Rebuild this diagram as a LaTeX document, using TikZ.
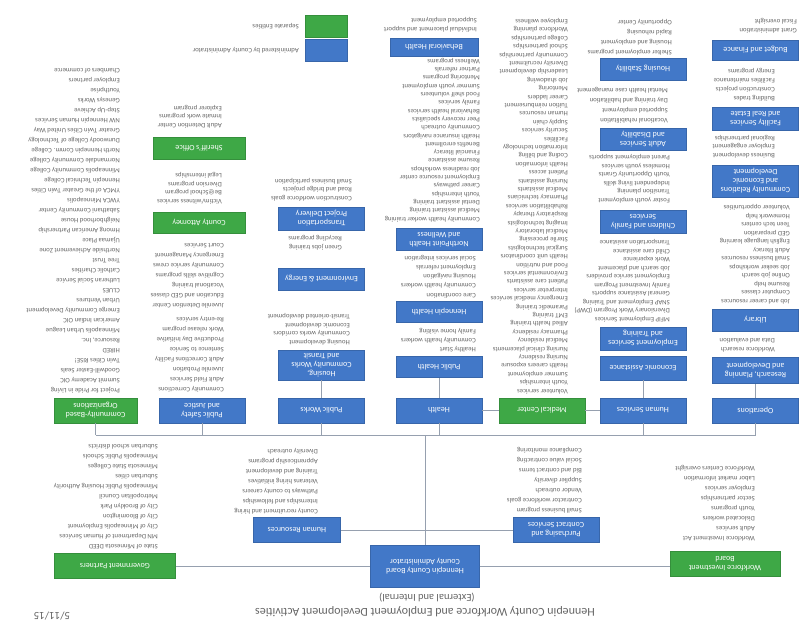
\documentclass[tikz,border=0pt]{standalone}
\usepackage{fontspec}
\setmainfont{Carlito}
\definecolor{hcblue}{RGB}{66,120,200}
\definecolor{hcgreen}{RGB}{62,168,70}
\definecolor{ink}{RGB}{100,100,100}
\definecolor{wire}{RGB}{150,160,175}
\begin{document}
\begin{tikzpicture}[x=1pt, y=-1pt,
  every node/.style={rotate=180},
  unit/.style={fill=hcblue, draw=hcblue!85!black, line width=0.4pt, text=white,
    font=\fontsize{8}{9}\selectfont, align=center, inner sep=1pt,
    minimum width=86, minimum height=25},
  partner/.style={unit, fill=hcgreen, draw=hcgreen!85!black},
  items/.style={text=ink, font=\fontsize{6.8}{10}\selectfont, align=left, inner sep=0pt, anchor=north west},
  dense/.style={items, font=\fontsize{6.8}{8.5}\selectfont},
  conn/.style={draw=wire, line width=0.6pt},
]
\useasboundingbox (0,0) rectangle (800,634);

% ---------- heading ----------
\node[text=ink, font=\fontsize{12}{14}\selectfont] (title) at (425,612) {Hennepin County Workforce and Employment Development Activities};
\node[text=ink, font=\fontsize{10.5}{12}\selectfont] (subtitle) at (427,598) {(External and Internal)};
\node[text=ink, font=\fontsize{11}{13}\selectfont] (date) at (52,616) {5/11/15};

% ---------- key ----------
\node[partner, minimum width=42, minimum height=22] (key-g) at (326,26) {};
\node[unit, minimum width=42, minimum height=22] (key-b) at (326,50) {};
\node[items, anchor=west] (key-gt) at (299,26) {Separate Entities};
\node[items, anchor=west] (key-bt) at (299,50) {Administered by County Administrator};

% ---------- administration level ----------
\node[unit, minimum width=109, minimum height=42] (admin) at (425,566) {Hennepin County Board\\County Administrator};
\node[partner, minimum width=121] (govt) at (115,566) {Government Partners};
\node[partner, minimum width=110] (wdb) at (725,564) {Workforce Investment\\Board};
\node[unit, minimum width=87] (hr) at (297,530) {Human Resources};
\node[unit] (pur) at (556,530) {Purchasing and\\Contract Services};

\node[items] (l-govt) at (158,549) {State of Minnesota DEED\\MN Department of Human Services\\City of Minneapolis Employment\\City of Bloomington\\City of Brooklyn Park\\Metropolitan Council\\Minneapolis Public Housing Authority\\Suburban cities\\Minnesota State Colleges\\Minneapolis Public Schools\\Suburban school districts};
\node[items] (l-hr) at (318,514) {County recruitment and hiring\\Internships and fellowships\\Pathways to county careers\\Veterans hiring initiatives\\Training and development\\Apprenticeship programs\\Diversity outreach};
\node[items] (l-pur) at (582,513) {Small business program\\Contractor workforce goals\\Vendor outreach\\Supplier diversity\\Bid and contract terms\\Social value contracting\\Compliance monitoring};
\node[items] (l-wdb) at (755,541) {Workforce Investment Act\\Adult services\\Dislocated workers\\Youth programs\\Sector partnerships\\Employer services\\Labor market information\\WorkForce Centers oversight};

% ---------- lines of business ----------
\node[partner, minimum width=83] (comm) at (95.5,410.5) {Community-Based\\Organizations};
\node[unit] (ps) at (202,410.5) {Public Safety\\and Justice};
\node[unit] (pw) at (321.5,410.5) {Public Works};
\node[unit] (health) at (439,410.5) {Health};
\node[partner] (hcmc) at (542,410.5) {Medical Center};
\node[unit] (hs) at (643,410.5) {Human Services};
\node[unit] (ops) at (755.5,410.5) {Operations};

% community organizations
\node[items] (l-comm) at (120,393) {Project for Pride in Living\\Summit Academy OIC\\Goodwill-Easter Seals\\Twin Cities RISE!\\HIRED\\Resource, Inc.\\Minneapolis Urban League\\American Indian OIC\\Emerge Community Development\\Urban Ventures\\CLUES\\Lutheran Social Service\\Catholic Charities\\Tree Trust\\Northside Achievement Zone\\Ujamaa Place\\Hmong American Partnership\\Neighborhood House\\Sabathani Community Center\\YWCA Minneapolis\\YMCA of the Greater Twin Cities\\Hennepin Technical College\\Minneapolis Community College\\Normandale Community College\\North Hennepin Comm. College\\Dunwoody College of Technology\\Greater Twin Cities United Way\\NW Hennepin Human Services\\Step-Up Achieve\\Genesys Works\\Youthprise\\Employer partners\\Chambers of commerce};

% public safety
\node[items] (l-ps1) at (224,392) {Community Corrections\\Adult Field Services\\Juvenile Probation\\Adult Corrections Facility\\Sentence to Service\\Productive Day Initiative\\Work release program\\Re-entry services};
\node[items] (l-ps2) at (224,308) {Juvenile Detention Center\\Education and GED classes\\Vocational training\\Cognitive skills programs\\Community service crews\\Emergency Management\\Court Services};
\node[partner, minimum width=92, minimum height=21] (atty) at (199,222.5) {County Attorney};
\node[dense] (l-atty) at (222,204) {Victim/witness services\\Be@School program\\Diversion programs\\Legal internships};
\node[partner, minimum width=92, minimum height=22] (sheriff) at (199,148) {Sheriff's Office};
\node[dense] (l-sheriff) at (222,128) {Adult Detention Center\\Inmate work programs\\Explorer program};

% public works
\node[unit, minimum height=30] (hcwt) at (321.5,365) {Housing,\\Community Works\\and Transit};
\node[dense] (l-hcwt) at (350,345) {Housing development\\Community works corridors\\Economic development\\Transit-oriented development};
\node[unit, minimum height=22] (env) at (321.5,279) {Environment \& Energy};
\node[dense] (l-env) at (342,250) {Green jobs training\\Recycling programs};
\node[unit, minimum height=23] (tpd) at (321.5,218.5) {Transportation\\Project Delivery};
\node[dense] (l-tpd) at (352,201) {Construction workforce goals\\Road and bridge projects\\Small business participation};

% health
\node[unit, minimum height=21] (ph) at (439,367) {Public Health};
\node[items, font=\fontsize{6.8}{9}\selectfont] (l-ph) at (476,352) {Healthy Start\\Community health workers\\Family home visiting};
\node[unit, minimum height=21] (hh) at (439,312) {Hennepin Health};
\node[items, font=\fontsize{6.8}{9.2}\selectfont] (l-hh) at (476,298) {Care coordination\\Community health workers\\Housing navigation\\Employment referrals\\Social services integration};
\node[unit, minimum height=22] (npt) at (439,239.5) {NorthPoint Health\\and Wellness};
\node[dense, font=\fontsize{6.8}{8.3}\selectfont] (l-npt) at (480,222) {Community health worker training\\Medical assistant training\\Dental assistant training\\Youth internships\\Career pathways\\Employment resource center\\Job readiness workshops\\Resume assistance\\Financial literacy\\Benefits enrollment\\Health insurance navigators\\Community outreach\\Peer recovery specialists\\Behavioral health services\\Family services\\Food shelf volunteers\\Summer youth employment\\Mentoring programs\\Partner referrals\\Wellness programs};
\node[unit, minimum width=88, minimum height=18] (bh) at (434,47) {Behavioral Health};
\node[dense] (l-bh) at (477,32) {Individual placement and support\\Supported employment};

% medical center
\node[dense, font=\fontsize{6.8}{8.4}\selectfont] (l-hcmc) at (568,394) {Volunteer services\\Youth internships\\Summer employment\\Health careers exposure\\Nursing residency\\Nursing clinical placements\\Medical residency\\Pharmacy residency\\Allied health training\\EMT training\\Paramedic training\\Emergency medical services\\Interpreter services\\Patient care assistants\\Environmental services\\Food and nutrition\\Health unit coordinators\\Surgical technologists\\Sterile processing\\Medical laboratory\\Imaging technologists\\Respiratory therapy\\Rehabilitation services\\Pharmacy technicians\\Medical assistants\\Nursing assistants\\Patient access\\Health information\\Coding and billing\\Information technology\\Facilities\\Security services\\Supply chain\\Human resources\\Tuition reimbursement\\Career ladders\\Mentoring\\Job shadowing\\Leadership development\\Diversity recruitment\\Community partnerships\\School partnerships\\College partnerships\\Workforce planning\\Employee wellness};

% human services
\node[unit, minimum height=24] (ea) at (643,368) {Economic Assistance};
\node[unit, minimum height=23] (es) at (643,338.5) {Employment Services\\and Training};
\node[dense] (l-es) at (670,322) {MFIP Employment Services\\Diversionary Work Program (DWP)\\SNAP Employment and Training\\General Assistance supports\\Family Investment Program\\Employment service providers\\Job search and placement\\Work experience\\Child care assistance\\Transportation assistance};
\node[unit, minimum height=23] (cfs) at (643,221.5) {Children and Family\\Services};
\node[dense] (l-cfs) at (670,203) {Foster youth employment\\Transition planning\\Independent living skills\\Youth Opportunity Grants\\Homeless youth services\\Parent employment supports};
\node[unit, minimum height=22] (ads) at (643,139) {Adult Services\\and Disability};
\node[items] (l-ads) at (668,123) {Vocational rehabilitation\\Supported employment\\Day training and habilitation\\Mental health case management};
\node[unit, minimum height=22] (hsd) at (643,69) {Housing Stability};
\node[items] (l-hsd) at (672,55) {Shelter employment programs\\Housing and employment\\Rapid rehousing\\Opportunity Center};

% operations
\node[unit, minimum height=26] (rpd) at (755.5,370.5) {Research, Planning\\and Development};
\node[dense] (l-rpd) at (775,352) {Workforce research\\Data and evaluation};
\node[unit, minimum height=22] (lib) at (755.5,320) {Library};
\node[dense] (l-lib) at (790,304) {Job and career resources\\Computer classes\\Resume help\\Online job search\\Job seeker workshops\\Small business resources\\Adult literacy\\English language learning\\GED preparation\\Teen tech centers\\Homework help\\Volunteer opportunities};
\node[unit, minimum height=32] (cred) at (755.5,181) {Community Relations\\and Economic\\Development};
\node[dense] (l-cred) at (775,158) {Business development\\Employer engagement\\Regional partnerships};
\node[unit, minimum height=23] (fac) at (755.5,118.5) {Facility Services\\and Real Estate};
\node[items, font=\fontsize{6.8}{9}\selectfont] (l-fac) at (775,101) {Building trades\\Construction projects\\Facilities maintenance\\Energy programs};
\node[unit, minimum height=20] (bud) at (755.5,50) {Budget and Finance};
\node[dense] (l-bud) at (797,33) {Grant administration\\Fiscal oversight};

% ---------- connectors ----------
\coordinate (busL) at (95.5,435);
\coordinate (busR) at (755.5,435);
\draw[conn] (busL) -- (busR);
\foreach \n in {comm,ps,pw,health,hs,ops}
  \draw[conn] (\n.north) -- (\n.north |- busL);
\draw[conn] (admin.south) -- (admin.south |- busL);
\draw[conn] (hr.west) -- (pur.east);
\draw[conn] (govt.west) -- (govt.west -| admin.east);
\draw[conn] (admin.west) -- (admin.west -| wdb.east);
\draw[conn] (pw.south) -- (hcwt.north);
\draw[conn] (health.south) -- (ph.north);
\draw[conn] (hs.south) -- (ea.north);
\draw[conn] (ops.south) -- (rpd.north);
\draw[conn] (health.west) -- (hcmc.east);
\draw[conn] (hcmc.west) -- (hs.east);
\end{tikzpicture}
\end{document}
